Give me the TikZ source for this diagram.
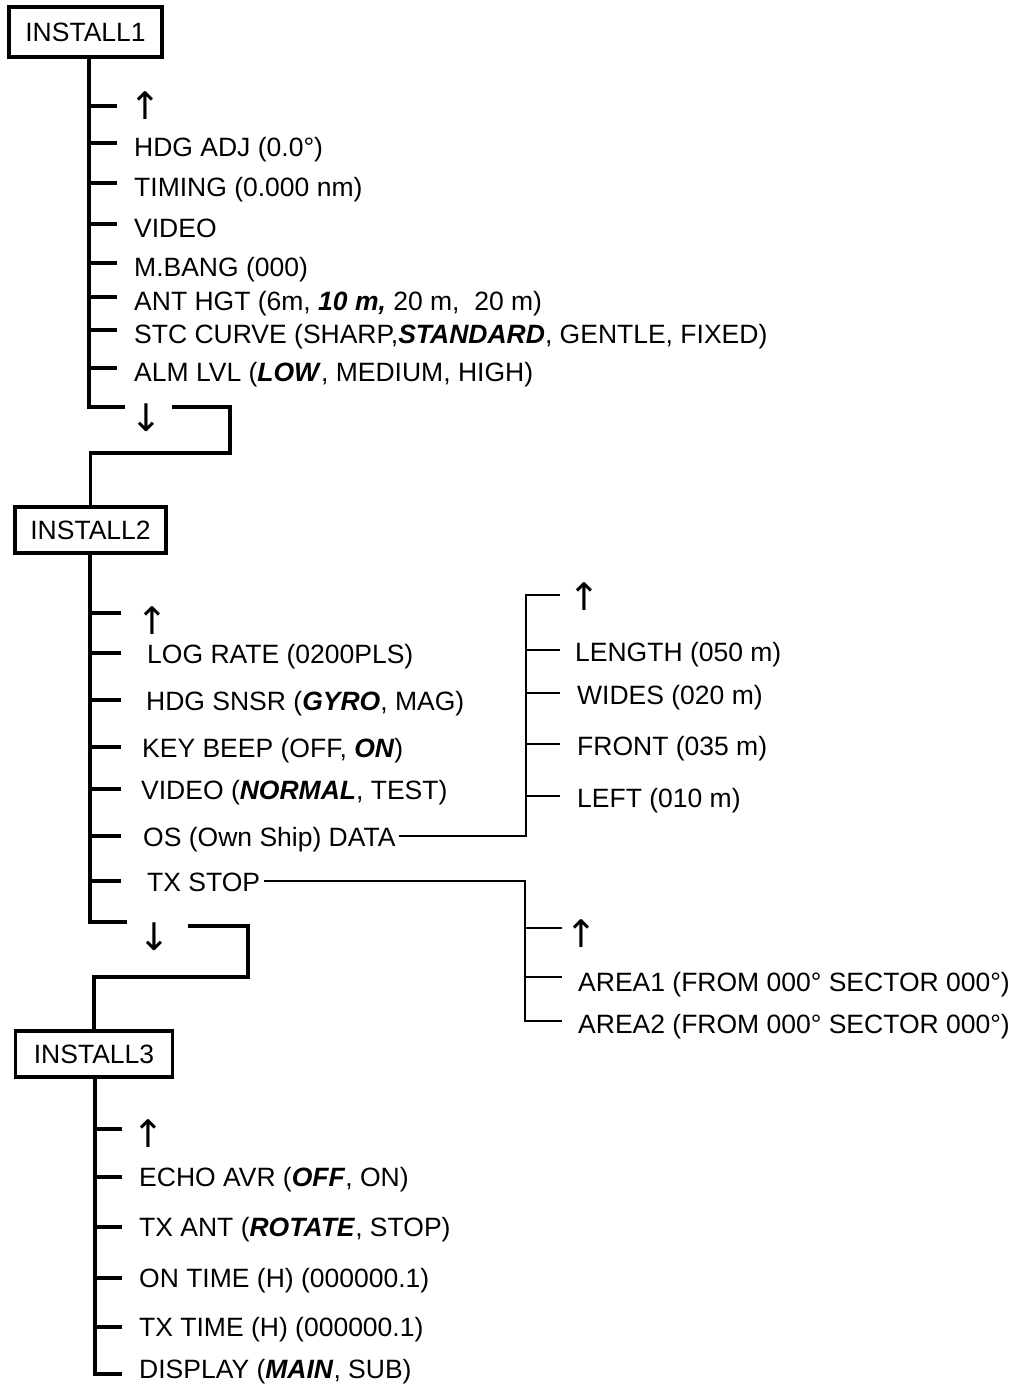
\documentclass[tikz,border=0pt]{standalone}
\usepackage{fontspec}
\setmainfont{Liberation Sans}
\newfontfamily\arrowfont{DejaVu Sans}
\newcommand\bi[1]{\textbf{\textit{#1}}}
\newcommand\fsz{\fontsize{26.5}{30}\selectfont}
\tikzset{
  line/.style={line width=3.2pt},
  subline/.style={line width=2.8pt},
  box/.style={draw, line width=3.4pt, inner sep=0pt, font=\fsz},
  itm/.style={anchor=base west, inner sep=0pt, font=\fsz},
  arr/.style={inner sep=0pt, font=\arrowfont\fontsize{38}{38}\selectfont},
}
% #1 name, #2 trunk x, #3 tick end x, #4 tick y, #5 text x, #6 baseline offset, #7 text, #8 line style
\newcommand\mitem[8]{%
  \coordinate (#1-t) at (#2,#4);
  \coordinate (#1-e) at (#3,#4);
  \node[itm] (#1) at (#5,#4+#6) {#7};
  \draw[#8] (#1-t) -- (#1-e);
}
% #1 name, #2 trunk x, #3 tick end x, #4 tick y, #5 arrow x, #6 arrow y, #7 glyph, #8 line style
\newcommand\marrow[8]{%
  \coordinate (#1-t) at (#2,#4);
  \coordinate (#1-e) at (#3,#4);
  \node[arr] (#1) at (#5,#6) {#7};
  \draw[#8] (#1-t) -- (#1-e);
}
\begin{document}
\begin{tikzpicture}[x=1pt,y=-1pt]
\useasboundingbox (0,0) rectangle (1015,1384);

% ---------- INSTALL1 ----------
\node[box,minimum width=153pt,minimum height=50pt] (box1) at (85.5,32) {INSTALL1};
\marrow{i1u}{89}{117}{106}{145}{105.5}{↑}{line}
\mitem{i1a}{89}{117}{143}{134}{13}{HDG ADJ (0.0°)}{line}
\mitem{i1b}{89}{117}{183}{134}{13}{TIMING (0.000 nm)}{line}
\mitem{i1c}{89}{117}{224}{134}{13}{VIDEO}{line}
\mitem{i1d}{89}{117}{263}{134}{13}{M.BANG (000)}{line}
\mitem{i1e}{89}{117}{297}{134}{13}{ANT HGT (6m, \bi{10 m,} 20 m,\ \ 20 m)}{line}
\mitem{i1f}{89}{117}{330}{134}{13}{STC CURVE (SHARP,\bi{STANDARD}, GENTLE, FIXED)}{line}
\mitem{i1g}{89}{117}{368}{134}{13}{ALM LVL (\bi{LOW}, MEDIUM, HIGH)}{line}
\marrow{i1z}{89}{125}{407}{146}{418}{↓}{line}

% ---------- INSTALL2 ----------
\node[box,minimum width=151pt,minimum height=46pt] (box2) at (90.5,530) {INSTALL2};
\marrow{i2u}{90}{121}{613}{152}{621}{↑}{line}
\mitem{i2a}{90}{121}{653}{147}{10}{LOG RATE (0200PLS)}{line}
\mitem{i2b}{90}{121}{700}{146}{10}{HDG SNSR (\bi{GYRO}, MAG)}{line}
\mitem{i2c}{90}{121}{747}{142}{10}{KEY BEEP (OFF, \bi{ON})}{line}
\mitem{i2d}{90}{121}{789}{141}{10}{VIDEO (\bi{NORMAL}, TEST)}{line}
\mitem{i2e}{90}{121}{836}{143}{10}{OS (Own Ship) DATA}{line}
\mitem{i2f}{90}{121}{881}{147}{10}{TX STOP}{line}
\marrow{i2z}{90}{127}{922}{154}{937}{↓}{line}

% ---------- OS DATA subtree ----------
\marrow{osu}{526}{560}{595}{584}{597}{↑}{subline}
\mitem{osa}{526}{560}{650}{575}{11}{LENGTH (050 m)}{subline}
\mitem{osb}{526}{560}{693}{577}{11}{WIDES (020 m)}{subline}
\mitem{osc}{526}{560}{744}{577}{11}{FRONT (035 m)}{subline}
\mitem{osd}{526}{560}{796}{577}{11}{LEFT (010 m)}{subline}

% ---------- TX STOP subtree ----------
\marrow{txu}{525}{562}{928}{581}{934}{↑}{subline}
\mitem{txa}{525}{562}{977}{578}{14}{AREA1 (FROM 000° SECTOR 000°)}{subline}
\mitem{txb}{525}{562}{1021}{578}{12}{AREA2 (FROM 000° SECTOR 000°)}{subline}

% ---------- INSTALL3 ----------
\node[box,minimum width=157pt,minimum height=46pt] (box3) at (94,1054) {INSTALL3};
\marrow{i3u}{95}{122}{1129}{148}{1134}{↑}{line}
\mitem{i3a}{95}{122}{1177}{139}{9}{ECHO AVR (\bi{OFF}, ON)}{line}
\mitem{i3b}{95}{122}{1227}{139}{9}{TX ANT (\bi{ROTATE}, STOP)}{line}
\mitem{i3c}{95}{122}{1278}{139}{9}{ON TIME (H) (000000.1)}{line}
\mitem{i3d}{95}{122}{1327}{139}{9}{TX TIME (H) (000000.1)}{line}
\mitem{i3e}{95}{122}{1374}{139}{4}{DISPLAY (\bi{MAIN}, SUB)}{line}

% ---------- trunks ----------
\draw[line] (box1.south -| i1z-t) -- (i1z-t) -- (i1z-e);
\draw[line] (box2.south -| i2z-t) -- (i2z-t) -- (i2z-e);
\draw[line] (box3.south -| i3e-t) -- (i3e-t) -- (i3e-e);

% ---------- brackets between sections ----------
\coordinate (br1a) at (172,407);
\coordinate (br1b) at (230,453);
\draw[line] (br1a) -| (br1b) -- (br1b -| box2.north) -- (box2.north);
\coordinate (br2a) at (188,926);
\coordinate (br2b) at (248,977);
\draw[line] (br2a) -| (br2b) -- (br2b -| box3.north) -- (box3.north);

% ---------- branch connectors ----------
\draw[subline] ([xshift=3pt]i2e.east |- i2e-t) -| (osu-t) -- (osu-e);
\draw[subline] ([xshift=4pt]i2f.east |- i2f-t) -| (txb-t) -- (txb-e);
\end{tikzpicture}
\end{document}
